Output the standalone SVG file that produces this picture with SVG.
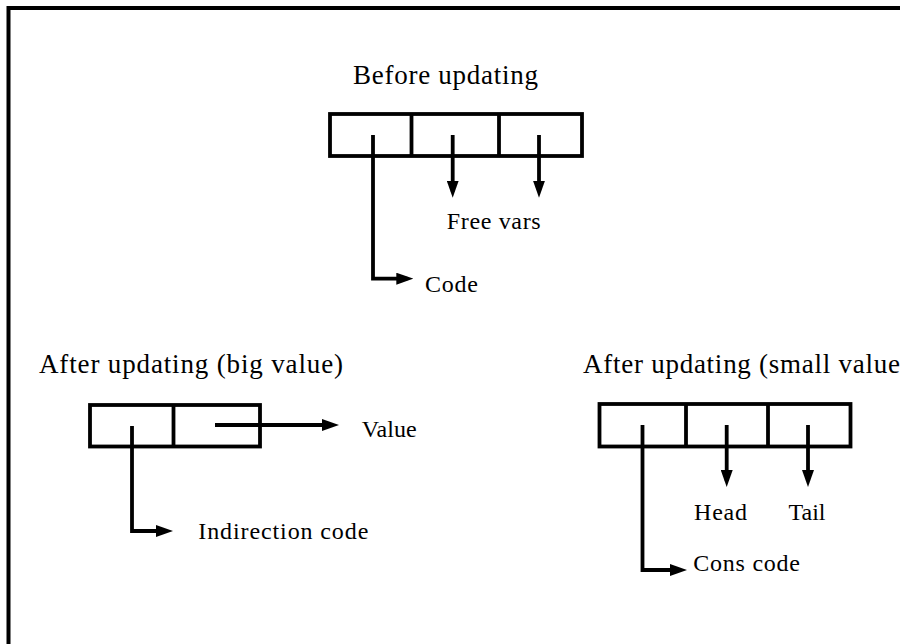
<svg xmlns="http://www.w3.org/2000/svg" width="900" height="644" viewBox="0 0 900 644">
<defs>
<style>
.frame{fill:none;stroke:#000;stroke-width:4}
.box{fill:none;stroke:#000;stroke-width:3.8}
.div{stroke:#000;stroke-width:3.8}
.ptr{fill:none;stroke:#000;stroke-width:3.8}
.title{font-family:"Liberation Serif","DejaVu Serif",serif;font-size:27px;fill:#000}
.lbl{font-family:"Liberation Serif","DejaVu Serif",serif;font-size:24px;fill:#000}
</style>
<marker id="ah" markerUnits="userSpaceOnUse" markerWidth="17" markerHeight="12" refX="11" refY="6" orient="auto" viewBox="0 0 17 12">
<path d="M0,0 L17,6 L0,12 z" fill="#000"/>
</marker>
</defs>
<rect width="900" height="644" fill="#fff"/>
<path class="frame" d="M8.5,650 V8 H910"/>

<g id="before">
<text class="title" x="353" y="84" textLength="185">Before updating</text>
<rect class="box" x="330" y="114" width="252" height="42"/>
<line class="div" x1="411.5" y1="114" x2="411.5" y2="156"/>
<line class="div" x1="499" y1="114" x2="499" y2="156"/>
</g>
<g id="free-vars"><text class="lbl" x="446.7" y="229" textLength="94">Free vars</text></g>
<g id="code"><text class="lbl" x="425" y="292" textLength="53">Code</text></g>

<g id="big">
<text class="title" x="39" y="373" textLength="304">After updating (big value)</text>
<rect class="box" x="90" y="405" width="170" height="41.5"/>
<line class="div" x1="173.5" y1="405" x2="173.5" y2="446.5"/>
</g>
<g id="value"><text class="lbl" x="361.7" y="437" textLength="55">Value</text></g>
<g id="indirection"><text class="lbl" x="198.3" y="539" textLength="170">Indirection code</text></g>

<g id="small">
<text class="title" x="583" y="373" textLength="317">After updating (small value</text>
<rect class="box" x="599.5" y="404" width="251" height="42.5"/>
<line class="div" x1="686" y1="404" x2="686" y2="446.5"/>
<line class="div" x1="768" y1="404" x2="768" y2="446.5"/>
</g>
<g id="head"><text class="lbl" x="694" y="520" textLength="53">Head</text></g>
<g id="tail"><text class="lbl" x="788.5" y="520" textLength="37">Tail</text></g>
<g id="cons"><text class="lbl" x="693.3" y="571" textLength="106.7">Cons code</text></g>

<g id="connectors">
<path class="ptr" d="M373,135 V278.7 H407.3" marker-end="url(#ah)"/>
<path class="ptr" d="M452.7,135 V191.7" marker-end="url(#ah)"/>
<path class="ptr" d="M539,135 V191.7" marker-end="url(#ah)"/>
<path class="ptr" d="M132,426 V531 H167" marker-end="url(#ah)"/>
<path class="ptr" d="M215,425 H333" marker-end="url(#ah)"/>
<path class="ptr" d="M642.5,425 V570 H681" marker-end="url(#ah)"/>
<path class="ptr" d="M726.7,425 V481" marker-end="url(#ah)"/>
<path class="ptr" d="M808,425 V481" marker-end="url(#ah)"/>
</g>
</svg>
